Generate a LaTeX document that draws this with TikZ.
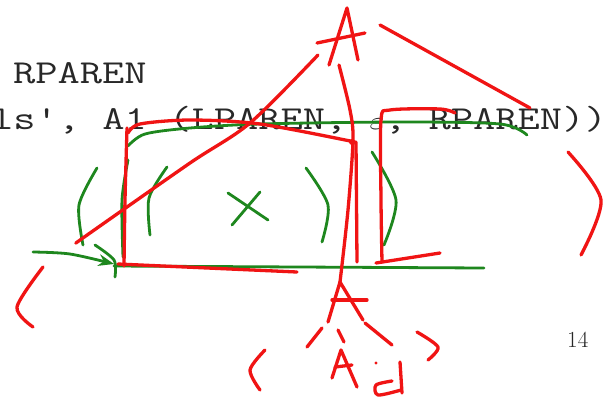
\documentclass[tikz,border=0pt]{standalone}
\usepackage{graphicx}
\usetikzlibrary{arrows.meta}
\definecolor{inkred}{RGB}{240,20,20}
\definecolor{inkgreen}{RGB}{30,135,30}
\definecolor{slidegray}{RGB}{40,40,40}

\begin{document}
\begin{tikzpicture}[
    x=1pt, y=-1pt,
    redpen/.style={draw=inkred, line width=3.3pt, line cap=round, line join=round},
    greenpen/.style={draw=inkgreen, line width=2.8pt, line cap=round, line join=round},
    code/.style={anchor=base west, inner sep=0pt, text=slidegray, font=\fontsize{33.5}{36}\selectfont\ttfamily},
    >=Stealth
]
\useasboundingbox[fill=white] (0,0) rectangle (616,400);

% slide text
\node[code] (rparen) at (13,83) {\scalebox{1.29}[1]{RPAREN}};
\node[code] (prod) at (-9,129) {\scalebox{1.29}[1]{ls', A1 (LPAREN, $\varepsilon$, RPAREN))}};
\node[anchor=base west, inner sep=0pt, text=slidegray, font=\fontsize{23}{25}\selectfont] (page) at (567,347) {14};

% green marks
\draw[greenpen] plot[smooth] coordinates {(128,146) (145,134) (190,128) (260,124) (400,122) (500,124) (527,135)};
\draw[greenpen] plot[smooth] coordinates {(97,168) (79,205) (83,245)};
\draw[greenpen] plot[smooth] coordinates {(128,160) (122,200) (123,257)};
\draw[greenpen] plot[smooth] coordinates {(167,167) (149,198) (150,235)};
\draw[greenpen] (228,193) -- (268,220);
\draw[greenpen] (260,192) -- (232,225);
\draw[greenpen] plot[smooth] coordinates {(306,168) (328,205) (322,242)};
\draw[greenpen] plot[smooth] coordinates {(372,152) (396,200) (384,245)};
\draw[greenpen] plot[smooth] coordinates {(95,245) (114,260) (115,277)};
\draw[greenpen, ->] plot[smooth] coordinates {(33,252) (70,254) (114,264)};
\draw[greenpen] (114,266) -- (484,268);

% red box
\draw[redpen] plot[smooth] coordinates {(127,128) (125,200) (124,266)};
\draw[redpen] plot[smooth] coordinates {(128,133) (140,124) (190,120) (260,124) (355,142)};
\fill[inkred] (352,142) circle (3pt);
\draw[redpen] (356,142) -- (357,262);
\draw[redpen] (118,264) -- (297,272);
\draw[redpen] plot[smooth] coordinates {(455,113) (440,109) (390,110) (381,120) (381,200) (382,262)};
\draw[redpen] (376,263) -- (440,253);

% top A and its branches
\draw[redpen] (329,65) -- (347,8) -- (358,60);
\draw[redpen] (317,43) -- (365,33);
\draw[redpen] plot[smooth] coordinates {(318,55) (250,123) (190,163) (90,233) (76,243)};
\draw[redpen] (380,25) -- (530,108);
\draw[redpen] plot[smooth] coordinates {(339,65) (350,110) (353,140) (348,210) (340,282)};
\draw[redpen] plot[smooth] coordinates {(43,267) (17,307) (33,327)};
\draw[redpen] plot[smooth] coordinates {(568,152) (601,200) (581,255)};

% lower A
\draw[redpen] (328,322) -- (340,282) -- (363,320);
\draw[redpen] (332,300) -- (367,300);
\draw[redpen] (365,323) -- (392,345);
\draw[redpen] (322,328) -- (307,347);
\draw[redpen] (338,330) -- (344,342);
\draw[redpen] plot[smooth] coordinates {(265,350) (250,370) (260,390)};
\draw[redpen] (332,378) -- (341,350) -- (357,387);
\draw[redpen] (335,367) -- (352,365);
\fill[inkred] (376,363) circle (1.6pt);
\draw[redpen] (400,362) -- (402,393);
\draw[redpen] plot[smooth] coordinates {(392,381) (376,385) (378,395) (401,390)};
\draw[redpen] plot[smooth] coordinates {(417,332) (438,347) (428,360)};
\end{tikzpicture}
\end{document}
